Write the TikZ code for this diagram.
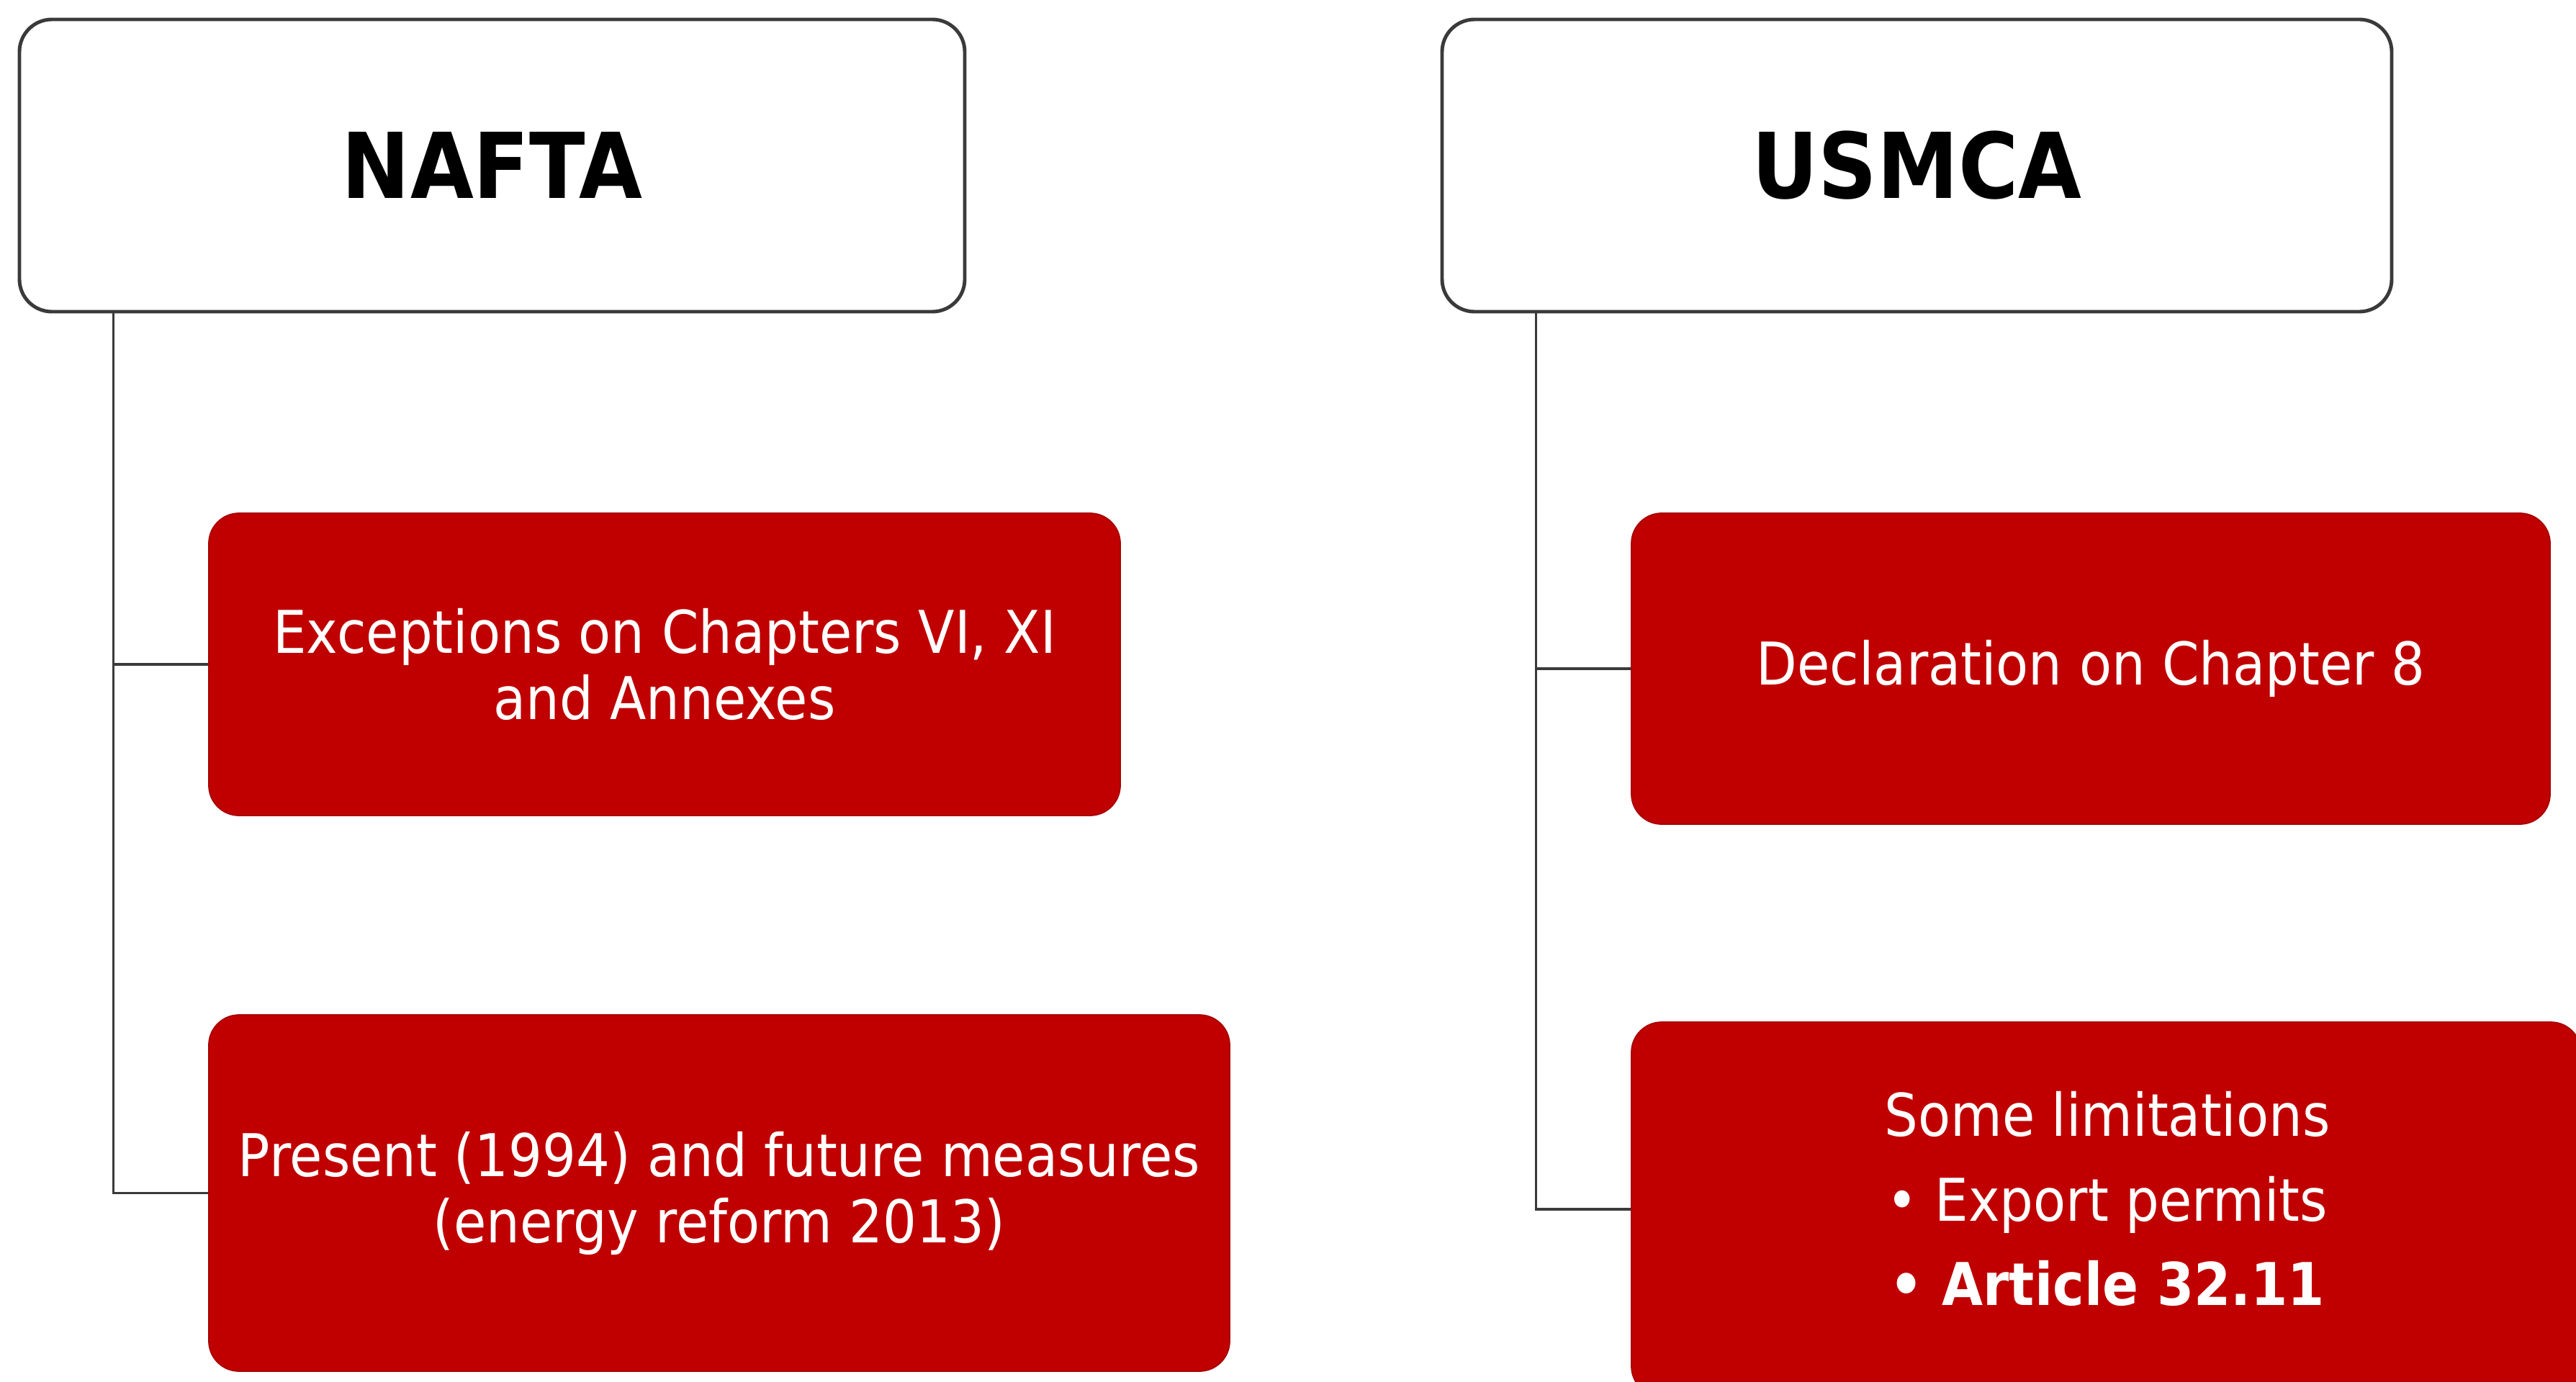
\documentclass[tikz,border=0pt]{standalone}
\usepackage{fontspec}
\setmainfont{DejaVu Sans}[FakeStretch=0.9]
\definecolor{boxred}{HTML}{C00000}
\definecolor{edgered}{HTML}{A80000}
\definecolor{linegray}{HTML}{3A3A3A}
\begin{document}
\begin{tikzpicture}[
  titlebox/.style={draw=linegray, line width=1.4pt, fill=white, rounded corners=0.45cm,
    minimum height=4.06cm, inner sep=0pt, font=\fontsize{35.9}{40}\selectfont\bfseries},
  redbox/.style={draw=edgered, line width=0.5pt, fill=boxred, rounded corners=0.42cm,
    inner sep=0pt, text=white, align=center, font=\fontsize{23.3}{26.2}\selectfont},
  redtext/.style={text=white, align=center, inner sep=0pt, font=\fontsize{23.3}{26.2}\selectfont},
  conn/.style={draw=linegray, line width=1.1pt}
]
\useasboundingbox (0,0) rectangle (35.78,-19.20);
\begin{scope}
\clip (0,0) rectangle (35.78,-19.20);
% title boxes
\node[titlebox, minimum width=13.13cm] (nafta) at (6.835,-2.30) {NAFTA};
\node[titlebox, minimum width=13.19cm] (usmca) at (26.625,-2.30) {USMCA};
% red boxes
\node[redbox, minimum width=12.66cm, minimum height=4.20cm] (red1) at (9.23,-9.23)
  {Exceptions on Chapters VI, XI\\and Annexes};
\node[redbox, minimum width=14.18cm, minimum height=4.95cm] (red2) at (9.99,-16.575)
  {Present (1994) and future measures\\(energy reform 2013)};
\node[redbox, minimum width=12.76cm, minimum height=4.32cm] (red3) at (29.04,-9.29)
  {Declaration on Chapter 8};
\node[redbox, minimum width=13.19cm, minimum height=5.20cm] (red4) at (29.255,-16.80) {};
\node[redtext, anchor=base] (red4a) at (29.27,-15.78) {Some limitations};
\node[redtext, anchor=base] (red4b) at (29.27,-16.96) {\textbullet\ Export permits};
\node[redtext, anchor=base] (red4c) at (29.27,-18.13) {\textbf{\textbullet\ Article 32.11}};
% connectors
\coordinate (nv) at ([xshift=1.33cm]nafta.south west);
\coordinate (uv) at ([xshift=1.33cm]usmca.south west);
\draw[conn] (nv) |- (red1.west);
\draw[conn] (nv) |- (red2.west);
\draw[conn] (uv) |- (red3.west);
\draw[conn] (uv) |- (red4.west);
\end{scope}
\end{tikzpicture}
\end{document}
